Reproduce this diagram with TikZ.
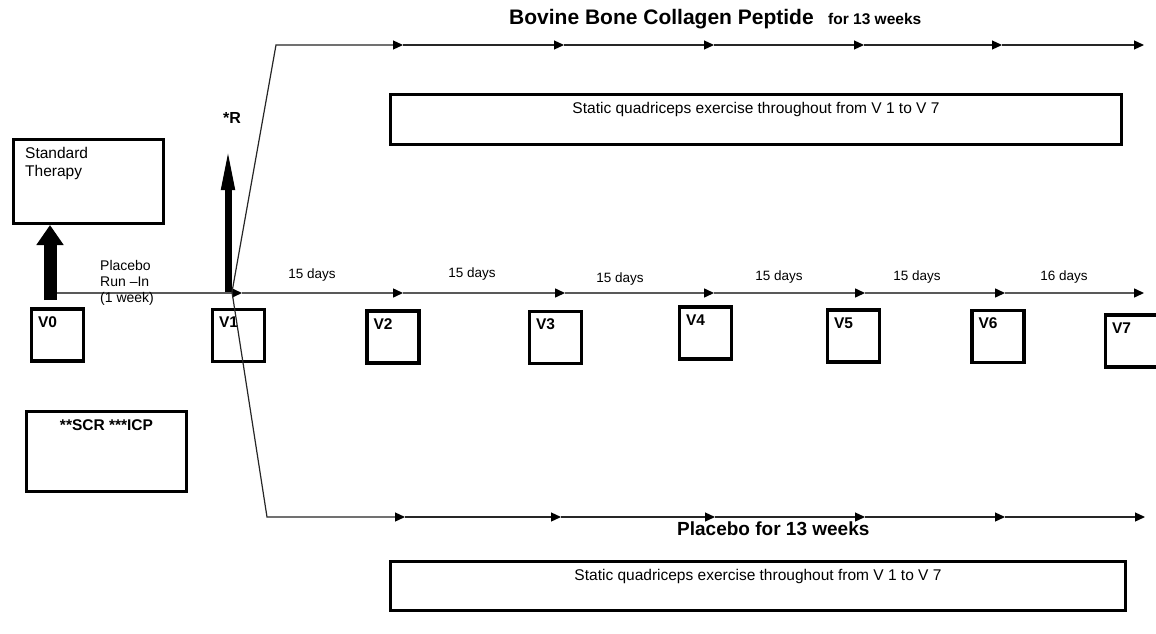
\documentclass[tikz,border=0pt]{standalone}
\usepackage{fontspec}
\setmainfont{Liberation Sans}
\usetikzlibrary{arrows.meta}
\begin{document}
\begin{tikzpicture}[x=1pt,y=-1pt,
  vbox/.style={draw, line width=3.2pt, minimum width=52pt, minimum height=52pt, inner sep=0pt},
  vlab/.style={font=\fontsize{15.5}{16}\selectfont\bfseries, anchor=north west, inner sep=0pt},
  bigbox/.style={draw, line width=3pt, inner sep=0pt},
  days/.style={font=\fontsize{13.5}{14}\selectfont, anchor=base, inner sep=0pt},
  tl/.style={draw=black!65, line width=1.5pt, -{Triangle[length=10pt,width=9pt,color=black]}},
  arm/.style={draw=black!85, line width=1.2pt, -{Triangle[length=10pt,width=9pt,color=black]}},
]
\useasboundingbox (0,0) rectangle (1156,634);
\fill[white] (0,0) rectangle (1156,634);

% visit boxes
\node[vbox] (v0) at (57.5,335) {};
\node[vbox] (v1) at (238.5,335.5) {};
\node[vbox] (v2) at (393,337) {};
\node[vbox] (v3) at (555.5,337.5) {};
\node[vbox] (v4) at (705.5,333) {};
\node[vbox] (v5) at (853.5,336) {};
\node[vbox] (v6) at (998,336.5) {};
\node[vbox] (v7) at (1131.5,341) {};
\foreach \i in {0,...,7}{
  \node[vlab] (l\i) at ([shift={(8,9)}]v\i.north west) {V\i};
}

% other boxes
\node[bigbox, minimum width=150pt, minimum height=84pt] (st) at (88.5,181.5) {};
\node[font=\fontsize{15.5}{18}\selectfont, align=left, anchor=north west, inner sep=0pt] (stl) at (25,147) {Standard\\Therapy};

\node[bigbox, line width=2.6pt, minimum width=160pt, minimum height=80pt] (scr) at (106.5,451.5) {};
\node[font=\fontsize{15.5}{16}\selectfont\bfseries, anchor=base, inner sep=0pt] (scrl) at (106.5,430) {**SCR ***ICP};

\node[bigbox, minimum width=731pt, minimum height=50pt] (ex1) at (756,119.5) {};
\node[font=\fontsize{15.5}{16}\selectfont, anchor=base, inner sep=0pt] (ex1l) at (756,113) {Static quadriceps exercise throughout from V 1 to V 7};

\node[bigbox, minimum width=735pt, minimum height=49pt] (ex2) at (758,586) {};
\node[font=\fontsize{15.5}{16}\selectfont, anchor=base, inner sep=0pt] (ex2l) at (758,580) {Static quadriceps exercise throughout from V 1 to V 7};

% titles
\node[font=\fontsize{21}{22}\selectfont\bfseries, anchor=base west, inner sep=0pt] (tt) at (509,25) {Bovine Bone Collagen Peptide};
\node[font=\fontsize{15.5}{16}\selectfont\bfseries, anchor=base west, inner sep=0pt] (tw) at (828,25) {for 13 weeks};
\node[font=\fontsize{19}{20}\selectfont\bfseries, anchor=base west, inner sep=0pt] (pt) at (677,535) {Placebo for 13 weeks};

% main timeline
\coordinate (m0) at (57,293);
\coordinate (m1) at (242,293);
\coordinate (m2) at (403,293);
\coordinate (m3) at (565,293);
\coordinate (m4) at (714,293);
\coordinate (m5) at (865,293);
\coordinate (m6) at (1005,293);
\coordinate (m7) at (1144,293);
\foreach \a/\b in {0/1,1/2,2/3,3/4,4/5,5/6,6/7}{
  \draw[tl] (m\a) -- (m\b);
}

% labels on main timeline
\node[font=\fontsize{14}{16}\selectfont, align=left, anchor=north west, inner sep=0pt] (pr) at (100,260) {Placebo\\Run --In\\(1 week)};
\node[days] (d1) at (312,278.5) {15 days};
\node[days] (d2) at (472,277.5) {15 days};
\node[days] (d3) at (620,282) {15 days};
\node[days] (d4) at (779,280.5) {15 days};
\node[days] (d5) at (917,280.5) {15 days};
\node[days] (d6) at (1064,280.5) {16 days};

% thick arrows
\coordinate (a0) at (50,300);
\draw[line width=13pt, -{Triangle[length=20pt,width=26pt]}] (a0) -- (st.south -| a0);
\coordinate (r0) at (228,292);
\coordinate (rtip) at (228,145);
\draw[line width=7pt, -{Triangle[length=45pt,width=12pt]}] (r0) -- (rtip);
\node[font=\fontsize{16}{16}\selectfont\bfseries, inner sep=0pt] (rl) at (232,118) {*R};

% junction and arms
\coordinate (j) at (232,292);
\coordinate (tc) at (276,45);
\coordinate (t1) at (403,45);
\coordinate (t2) at (564,45);
\coordinate (t3) at (714,45);
\coordinate (t4) at (864,45);
\coordinate (t5) at (1002,45);
\coordinate (t6) at (1144,45);
\draw[arm] (j) -- (tc) -- (t1);
\foreach \a/\b in {1/2,2/3,3/4,4/5,5/6}{
  \draw[arm] (t\a) -- (t\b);
}
\coordinate (bc) at (267,517);
\coordinate (b1) at (405,517);
\coordinate (b2) at (561,517);
\coordinate (b3) at (715,517);
\coordinate (b4) at (865,517);
\coordinate (b5) at (1005,517);
\coordinate (b6) at (1145,517);
\draw[arm] (j) -- (bc) -- (b1);
\foreach \a/\b in {1/2,2/3,3/4,4/5,5/6}{
  \draw[arm] (b\a) -- (b\b);
}
\end{tikzpicture}
\end{document}
